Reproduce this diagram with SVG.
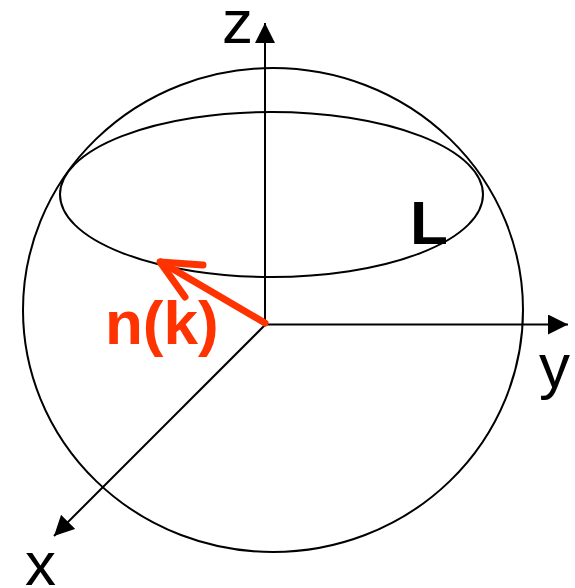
<svg xmlns="http://www.w3.org/2000/svg" width="575" height="588" viewBox="0 0 575 588">
<style>
.ln{fill:none;stroke:#000;stroke-width:2}
.ax{stroke:#000;stroke-width:2;fill:none}
.lbl{font-family:"Liberation Sans",Arial,sans-serif;font-size:62px;fill:#000}
.bold{font-weight:bold}
.red{stroke:#FF3300;stroke-width:7;fill:none;stroke-linecap:round;stroke-linejoin:round}
</style>
<defs>
<marker id="ah" viewBox="0 0 20 20" refX="20" refY="10" markerWidth="20" markerHeight="20" markerUnits="userSpaceOnUse" orient="auto">
<path d="M0,0 L20,10 L0,20 z" fill="#000"/>
</marker>
</defs>
<rect width="575" height="588" fill="#fff"/>
<g id="sphere"><ellipse class="ln" cx="273" cy="310" rx="250" ry="242"/></g>
<g id="loopL"><ellipse class="ln" cx="271.5" cy="194.5" rx="211.5" ry="82.5"/></g>
<g id="connectors">
<line class="ax" x1="265" y1="325" x2="265" y2="23" marker-end="url(#ah)"/>
<line class="ax" x1="265" y1="324.5" x2="568" y2="324.5" marker-end="url(#ah)"/>
<line class="ax" x1="265" y1="325" x2="54" y2="536" marker-end="url(#ah)"/>
<g id="nk-arrow"><line class="red" x1="265" y1="323" x2="161" y2="262"/><polyline class="red" points="203,265 160,262 185,297"/></g>
</g>
<g id="labels">
<text class="lbl" x="222" y="43">z</text>
<text class="lbl" x="539" y="387">y</text>
<text class="lbl" x="25" y="585">x</text>
<text class="lbl bold" x="410" y="244">L</text>
<text class="lbl bold" x="105" y="344" fill="#FF3300" style="fill:#FF3300">n(k)</text>
</g>
</svg>
